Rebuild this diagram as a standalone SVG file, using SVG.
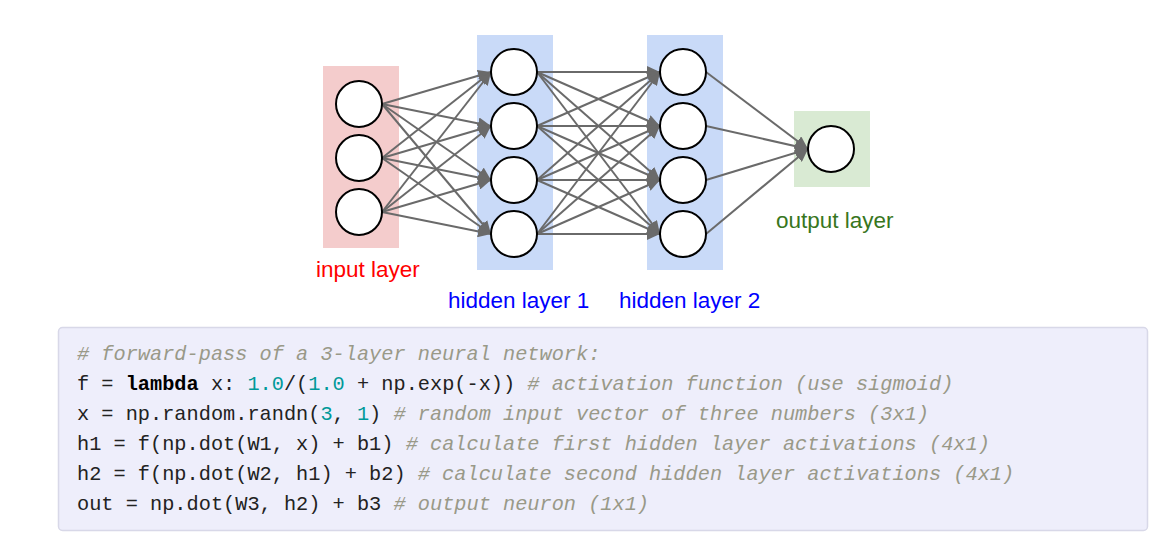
<svg xmlns="http://www.w3.org/2000/svg" width="1170" height="545" viewBox="0 0 1170 545">
<style>
.neuron{fill:#fff;stroke:#000;stroke-width:2}
.edge{stroke:#6a6a6a;stroke-width:2;fill:none;marker-end:url(#arr)}
.lbl{font-family:"Liberation Sans",Arial,sans-serif;font-size:22.5px}
.code{font-family:"Liberation Mono","Courier New",monospace;font-size:20.3px;fill:#222}
.cm{fill:#999988;font-style:italic}
.num{fill:#009999}
.kw{font-weight:bold;fill:#000}
</style>
<defs>
<marker id="arr" markerUnits="userSpaceOnUse" markerWidth="14" markerHeight="12" refX="13" refY="6" orient="auto">
<path d="M0,0 L13,6 L0,12 z" fill="#6a6a6a"/>
</marker>
</defs>
<rect width="1170" height="545" fill="#fff"/>
<g id="layer-bg">
<rect x="323" y="66" width="76" height="182" fill="#f4cccc"/>
<rect x="477" y="35" width="76" height="235" fill="#c9daf8"/>
<rect x="647" y="35" width="76" height="235" fill="#c9daf8"/>
<rect x="794" y="111" width="76" height="76" fill="#d9ead3"/>
</g>
<g id="connectors">
<line class="edge" x1="382" y1="104" x2="491" y2="72"/>
<line class="edge" x1="382" y1="104" x2="491" y2="126"/>
<line class="edge" x1="382" y1="104" x2="491" y2="180"/>
<line class="edge" x1="382" y1="104" x2="491" y2="234"/>
<line class="edge" x1="382" y1="158" x2="491" y2="72"/>
<line class="edge" x1="382" y1="158" x2="491" y2="126"/>
<line class="edge" x1="382" y1="158" x2="491" y2="180"/>
<line class="edge" x1="382" y1="158" x2="491" y2="234"/>
<line class="edge" x1="382" y1="212" x2="491" y2="72"/>
<line class="edge" x1="382" y1="212" x2="491" y2="126"/>
<line class="edge" x1="382" y1="212" x2="491" y2="180"/>
<line class="edge" x1="382" y1="212" x2="491" y2="234"/>
<line class="edge" x1="537" y1="72" x2="660" y2="72"/>
<line class="edge" x1="537" y1="72" x2="660" y2="126"/>
<line class="edge" x1="537" y1="72" x2="660" y2="180"/>
<line class="edge" x1="537" y1="72" x2="660" y2="234"/>
<line class="edge" x1="537" y1="126" x2="660" y2="72"/>
<line class="edge" x1="537" y1="126" x2="660" y2="126"/>
<line class="edge" x1="537" y1="126" x2="660" y2="180"/>
<line class="edge" x1="537" y1="126" x2="660" y2="234"/>
<line class="edge" x1="537" y1="180" x2="660" y2="72"/>
<line class="edge" x1="537" y1="180" x2="660" y2="126"/>
<line class="edge" x1="537" y1="180" x2="660" y2="180"/>
<line class="edge" x1="537" y1="180" x2="660" y2="234"/>
<line class="edge" x1="537" y1="234" x2="660" y2="72"/>
<line class="edge" x1="537" y1="234" x2="660" y2="126"/>
<line class="edge" x1="537" y1="234" x2="660" y2="180"/>
<line class="edge" x1="537" y1="234" x2="660" y2="234"/>
<line class="edge" x1="706" y1="72" x2="808" y2="149"/>
<line class="edge" x1="706" y1="126" x2="808" y2="149"/>
<line class="edge" x1="706" y1="180" x2="808" y2="149"/>
<line class="edge" x1="706" y1="234" x2="808" y2="149"/>
</g>
<g id="input-layer">
<circle class="neuron" cx="359" cy="104" r="23"/>
<circle class="neuron" cx="359" cy="158" r="23"/>
<circle class="neuron" cx="359" cy="212" r="23"/>
<text class="lbl" x="316" y="277" fill="#ff0000">input layer</text>
</g>
<g id="hidden-layer-1">
<circle class="neuron" cx="514" cy="72" r="23"/>
<circle class="neuron" cx="514" cy="126" r="23"/>
<circle class="neuron" cx="514" cy="180" r="23"/>
<circle class="neuron" cx="514" cy="234" r="23"/>
<text class="lbl" x="448" y="308" fill="#0000ff">hidden layer 1</text>
</g>
<g id="hidden-layer-2">
<circle class="neuron" cx="683" cy="72" r="23"/>
<circle class="neuron" cx="683" cy="126" r="23"/>
<circle class="neuron" cx="683" cy="180" r="23"/>
<circle class="neuron" cx="683" cy="234" r="23"/>
<text class="lbl" x="619" y="308" fill="#0000ff">hidden layer 2</text>
</g>
<g id="output-layer">
<circle class="neuron" cx="831" cy="149" r="23"/>
<text class="lbl" x="776" y="228" fill="#38761d">output layer</text>
</g>
<g id="code-block">
<rect x="58.5" y="327.5" width="1089" height="203" rx="4" fill="#eeeefb" stroke="#d8d8e8" stroke-width="1.5"/>
<text class="code" x="77" y="360" xml:space="preserve"><tspan class="cm"># forward-pass of a 3-layer neural network:</tspan></text>
<text class="code" x="77" y="390" xml:space="preserve">f = <tspan class="kw">lambda</tspan> x: <tspan class="num">1.0</tspan>/(<tspan class="num">1.0</tspan> + np.exp(-x)) <tspan class="cm"># activation function (use sigmoid)</tspan></text>
<text class="code" x="77" y="420" xml:space="preserve">x = np.random.randn(<tspan class="num">3</tspan>, <tspan class="num">1</tspan>) <tspan class="cm"># random input vector of three numbers (3x1)</tspan></text>
<text class="code" x="77" y="450" xml:space="preserve">h1 = f(np.dot(W1, x) + b1) <tspan class="cm"># calculate first hidden layer activations (4x1)</tspan></text>
<text class="code" x="77" y="480" xml:space="preserve">h2 = f(np.dot(W2, h1) + b2) <tspan class="cm"># calculate second hidden layer activations (4x1)</tspan></text>
<text class="code" x="77" y="510" xml:space="preserve">out = np.dot(W3, h2) + b3 <tspan class="cm"># output neuron (1x1)</tspan></text>
</g>
</svg>
